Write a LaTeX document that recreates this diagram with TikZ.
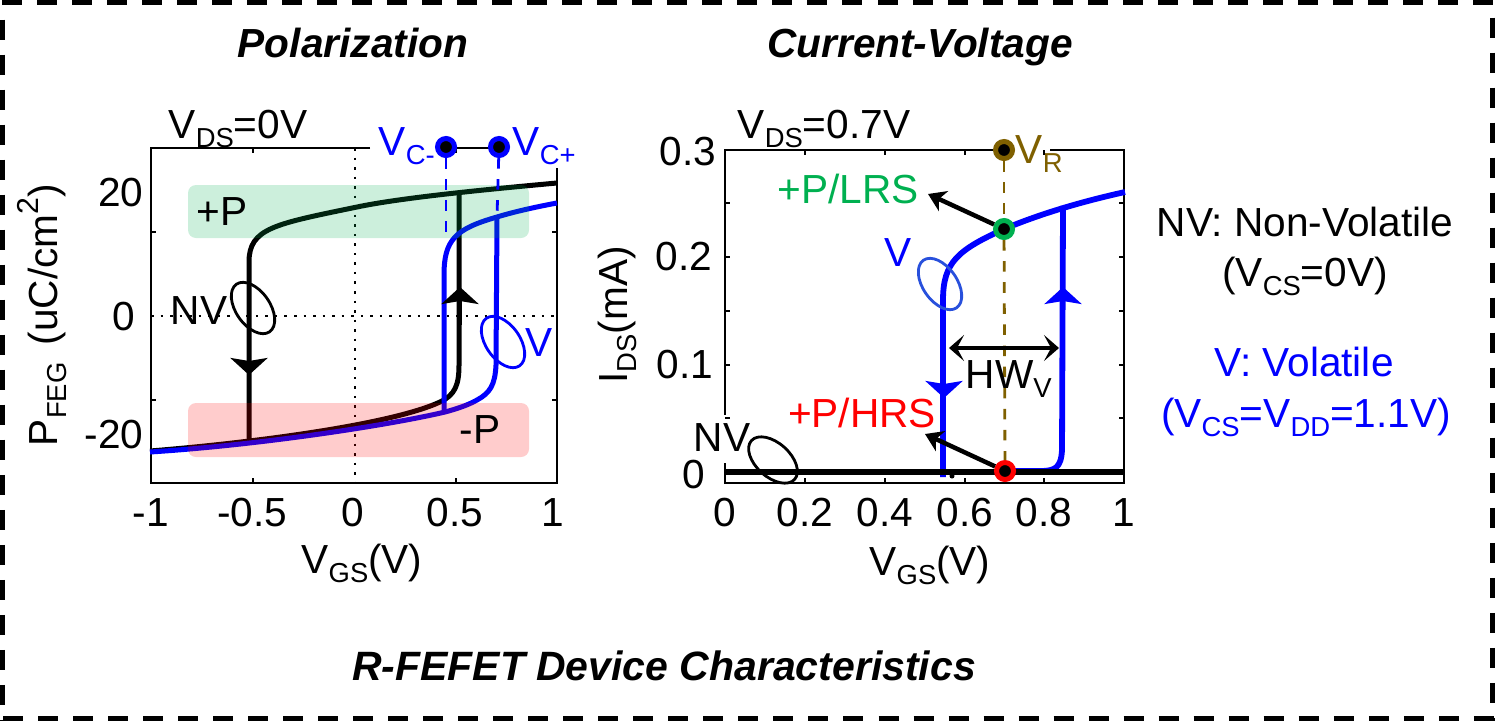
\documentclass[tikz,border=0pt]{standalone}
\usepackage{fontspec}
\setmainfont{Liberation Sans}
\usetikzlibrary{arrows.meta,shapes.geometric}
\definecolor{pblue}{RGB}{0,0,255}
\definecolor{pgreen}{RGB}{0,176,80}
\definecolor{pbrown}{RGB}{127,96,0}
\definecolor{pring}{RGB}{40,80,220}
\newcommand{\lowtxt}[1]{\raisebox{-.45ex}{\fontsize{7.8}{9}\selectfont #1}}
\newcommand{\hightxt}[1]{\raisebox{.85ex}{\fontsize{8.6}{9}\selectfont #1}}
\tikzset{
  every node/.style={font=\fontsize{11.55}{13}\selectfont,inner sep=0pt},
  titletxt/.style={anchor=base,font=\fontsize{11.55}{13}\selectfont\bfseries\itshape},
  axisline/.style={line width=.022cm},
  gridline/.style={line width=.025cm,dotted},
  curveline/.style={line width=.05cm},
  flowtip/.style={line width=.04cm,-{Stealth[length=.17cm,width=.37cm,inset=.03cm]}},
  callout/.style={line width=.045cm,-{Stealth[length=.17cm,width=.22cm,inset=.05cm]}},
  widthmark/.style={line width=.035cm,{Stealth[length=.15cm,width=.26cm,inset=.07cm]}-{Stealth[length=.15cm,width=.26cm,inset=.07cm]}},
  dotnode/.style={circle,fill=black,minimum size=.17cm,line width=.05cm},
  ringnode/.style={ellipse,draw,minimum width=.58cm,minimum height=.34cm,line width=.028cm},
  guideline/.style={line width=.028cm,dashed},
  edgeline/.style={line width=.05cm,dash pattern=on .2cm off .15cm}
}
\begin{document}
\begin{tikzpicture}[x=.01cm,y=-.01cm]
\useasboundingbox (0,0) rectangle (1495,721);
\draw[edgeline] (2,2) -- (1495,2);
\draw[edgeline] (2.5,19.5) -- (2.5,721);
\draw[edgeline] (3,718.5) -- (1495,718.5);
\draw[edgeline] (1492.5,17.5) -- (1492.5,721);
\node[titletxt] (poltitle) at (353,57) {Polarization};
\node[titletxt] (ivtitle) at (920,57) {Current-Voltage};
\node[titletxt,font=\fontsize{11.65}{13}\selectfont\bfseries\itshape] (devtitle) at (664,680) {R-FEFET Device Characteristics};
% left axes
\draw[gridline] (355,148) -- (355,483);
\draw[gridline] (151,316) -- (557,316);
\draw[axisline] (370,148) -- (151,148) -- (151,483) -- (557,483) -- (557,168);
\draw[axisline] (446,148) -- (499,148);
\foreach \x in {253,456} {
  \draw[axisline] (\x,148) -- (\x,153);
  \draw[axisline] (\x,483) -- (\x,478);
}
\foreach \y in {232,400} {
  \draw[axisline] (151,\y) -- (156,\y);
  \draw[axisline] (557,\y) -- (552,\y);
}
\draw[curveline] (150,451) .. controls (250,443) and (390,425) .. (440,402) .. controls (455,395) and (459,385) .. (459,365) -- (459,195);
\draw[curveline] (557,183) .. controls (480,190) and (400,198) .. (357,207) .. controls (275,224) and (249,228) .. (249,262) -- (249,440);
\draw[curveline,pblue] (150,452) .. controls (260,445) and (390,425) .. (445,412) .. controls (460,408) and (470,404) .. (477,400) .. controls (490,393) and (495,385) .. (496,365) -- (497,217);
\draw[curveline,pblue] (557,203) .. controls (530,208) and (510,213) .. (497,217) .. controls (455,229) and (444,240) .. (444,275) -- (444,412);
\fill[pgreen,opacity=.2,rounded corners=.08cm] (188,185) rectangle (529,238);
\fill[red,opacity=.2,rounded corners=.08cm] (188,403) rectangle (529,457);
\coordinate (nvtop) at (249,340);
\coordinate (nvtip) at (249,375);
\coordinate (nvbot) at (460,325);
\coordinate (nvup) at (460,287);
\draw[flowtip] (nvtop) -- (nvtip);
\draw[flowtip] (nvbot) -- (nvup);
\node (plusp) at (222,212) {+P};
\node (minusp) at (480,430) {-P};
\node (nvleft) at (199,311) {NV};
\node[pblue] (vleft) at (539,343) {V};
\node[ringnode,rotate=-55] (nvring) at (253,308) {};
\node[ringnode,rotate=-55,pblue] (vring) at (503,342) {};
\node[dotnode,draw=pblue] (vcminus) at (446,147) {};
\node[dotnode,draw=pblue] (vcplus) at (499,147) {};
\coordinate (vcmend) at (446,240);
\coordinate (vcpend) at (497,217);
\draw[guideline,pblue] (vcminus) -- (vcmend);
\draw[guideline,pblue] (vcplus) -- (vcpend);
\node[anchor=base west,pblue] (vcmlabel) at (378,155) {V\lowtxt{C-}};
\node[anchor=base west,pblue] (vcplabel) at (512,155) {V\lowtxt{C+}};
\node[anchor=base west] (vdsleft) at (168,138) {V\lowtxt{DS}=0V};
\node (xneg) at (151,513) {-1};
\node (xnegh) at (252,513) {-0.5};
\node (xzero) at (353,513) {0};
\node (xposh) at (455,513) {0.5};
\node (xpos) at (553,513) {1};
\node[anchor=east] (ytop) at (144,193) {20};
\node[anchor=east] (ymid) at (136,317) {0};
\node[anchor=east] (ybot) at (144,435) {-20};
\node[rotate=90,anchor=base] (pfeg) at (57,315) {P\lowtxt{FEG}\hspace{.06cm} (uC/cm\hightxt{2})};
\node[anchor=base] (vgsleft) at (362,573) {V\lowtxt{GS}(V)};
% right axes
\draw[axisline] (1004,150) -- (725,150) -- (725,415);
\draw[axisline] (725,463) -- (725,483) -- (1124,483) -- (1124,150) -- (1050,150);
\foreach \x in {805,885,965,1044} {
  \draw[axisline] (\x,150) -- (\x,155);
  \draw[axisline] (\x,483) -- (\x,478);
}
\foreach \y in {203,257,311,365,418} {
  \draw[axisline] (725,\y) -- (730,\y);
  \draw[axisline] (1124,\y) -- (1119,\y);
}
\draw[line width=.058cm,pblue] (943,477) -- (943,300) .. controls (943,262) and (958,250) .. (1004,229) .. controls (1040,214) and (1080,202) .. (1125,192);
\draw[line width=.058cm,pblue] (1005,471) -- (1040,471) .. controls (1055,471) and (1061,468) .. (1062,450) -- (1063,206);
\draw[line width=.06cm] (725,472) -- (1124,472);
\fill (952,476) circle (2.5);
\node[dotnode,draw=pbrown] (vrdot) at (1004,150) {};
\node[dotnode,draw=pgreen] (lrsdot) at (1004,229) {};
\node[dotnode,draw=red] (hrsdot) at (1005,471) {};
\draw[guideline,pbrown] (vrdot) -- (lrsdot);
\draw[guideline,pbrown] (lrsdot) -- (hrsdot);
\coordinate (vvdown) at (944,365);
\coordinate (vvtip) at (944,398);
\coordinate (vvbot) at (1063,325);
\coordinate (vvup) at (1063,287);
\draw[flowtip,pblue] (vvdown) -- (vvtip);
\draw[flowtip,pblue] (vvbot) -- (vvup);
\coordinate (lrstip) at (928,194);
\coordinate (hrstip) at (925,434);
\draw[callout] (lrsdot) -- (lrstip);
\draw[callout] (hrsdot) -- (hrstip);
\coordinate (hwleft) at (949,348);
\coordinate (hwright) at (1059,348);
\draw[widthmark] (hwleft) -- (hwright);
\node[ringnode,rotate=-55,pring] (vringr) at (940,284) {};
\node[ringnode,rotate=-42] (nvringr) at (773,460) {};
\node[anchor=base west,pbrown] (vrlabel) at (1015,163) {V\lowtxt{R}};
\node[anchor=base west] (vdsright) at (737,138) {V\lowtxt{DS}=0.7V};
\node[pgreen] (lrslabel) at (848,189) {+P/LRS};
\node[red] (hrslabel) at (862,413) {+P/HRS};
\node[pblue] (vright) at (898,253) {V};
\node (nvright) at (722,438) {NV};
\node[anchor=base west] (hwlabel) at (965,388) {HW\lowtxt{V}};
\node (xa) at (725,513) {0};
\node (xb) at (805,513) {0.2};
\node (xc) at (885,513) {0.4};
\node (xd) at (965,513) {0.6};
\node (xe) at (1044,513) {0.8};
\node (xf) at (1124,513) {1};
\node[anchor=east] (ya) at (717,152) {0.3};
\node[anchor=east] (yb) at (713,257) {0.2};
\node[anchor=east] (yc) at (714,365) {0.1};
\node[anchor=east] (yd) at (706,475) {0};
\node[rotate=90,anchor=base] (ids) at (627,315) {I\lowtxt{DS}(mA)};
\node[anchor=base] (vgsright) at (930,575) {V\lowtxt{GS}(V)};
% legend
\node[anchor=base] (nvtext) at (1305,236) {NV: Non-Volatile};
\node[anchor=base] (nvcs) at (1305,286) {(V\lowtxt{CS}=0V)};
\node[anchor=base,pblue] (vtext) at (1304,376) {V: Volatile};
\node[anchor=base,pblue] (vcs) at (1306,427) {(V\lowtxt{CS}=V\lowtxt{DD}=1.1V)};
\end{tikzpicture}
\end{document}
